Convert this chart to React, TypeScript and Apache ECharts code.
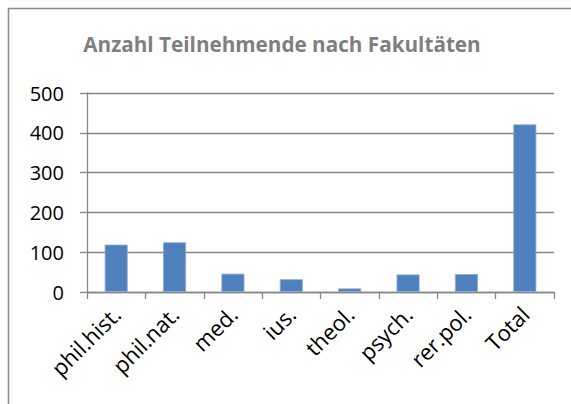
import React, { useEffect, useRef } from "react";
import * as echarts from "echarts";

const categories = ["phil.hist.", "phil.nat.", "med.", "ius.", "theol.", "psych.", "rer.pol.", "Total"];
const values = [119, 125, 46, 32, 9, 44, 45, 421];
const yTicks = { min: 0, max: 500, interval: 100 };
const titleText = "Anzahl Teilnehmende nach Fakultäten";

const FONT = "'Open Sans', 'DejaVu Sans', sans-serif";
const AXIS_GRAY = "#868686";

export default function App() {
  const ref = useRef<HTMLDivElement>(null);
  useEffect(() => {
    if (!ref.current) return;
    const chart = echarts.init(ref.current, null, { renderer: "svg" });
    chart.setOption({
      animation: false,
      backgroundColor: "#ffffff",
      title: {
        text: titleText,
        left: 277,
        top: 28,
        textAlign: "center",
        textStyle: { fontFamily: FONT, fontSize: 20.7, fontWeight: "bold", color: "#7f7f7f" },
      },
      graphic: [
        {
          type: "rect",
          shape: { x: 8.5, y: 8.5, width: 700, height: 600 },
          style: { fill: "none", stroke: "#8c8c8c", lineWidth: 1.5 },
          silent: true,
        },
      ],
      grid: { left: 87, right: 17, top: 93, bottom: 112, containLabel: false },
      xAxis: {
        type: "category",
        data: categories,
        boundaryGap: true,
        axisLine: { show: true, lineStyle: { color: AXIS_GRAY, width: 1.3 } },
        axisTick: { show: true, alignWithLabel: false, length: 7, lineStyle: { color: AXIS_GRAY, width: 1.3 } },
        axisLabel: {
          rotate: 45,
          margin: 18,
          fontFamily: FONT,
          fontSize: 22,
          color: "#000000",
          interval: 0,
        },
      },
      yAxis: {
        type: "value",
        min: yTicks.min,
        max: yTicks.max,
        interval: yTicks.interval,
        axisLine: { show: true, lineStyle: { color: AXIS_GRAY, width: 1.3 } },
        axisTick: { show: true, length: 7, lineStyle: { color: AXIS_GRAY, width: 1.3 } },
        splitLine: { show: true, lineStyle: { color: AXIS_GRAY, width: 1.3 } },
        axisLabel: { margin: 23, fontFamily: FONT, fontSize: 20, color: "#000000" },
      },
      series: [
        {
          type: "bar",
          data: values,
          barWidth: 23,
          itemStyle: { color: "#4f81bd", borderColor: "#8fa9d4", borderWidth: 0.8 },
        },
      ],
    });
    return () => chart.dispose();
  }, []);
  return <div ref={ref} style={{ position: "fixed", left: 0, top: 0, width: 571, height: 404 }} />;
}
